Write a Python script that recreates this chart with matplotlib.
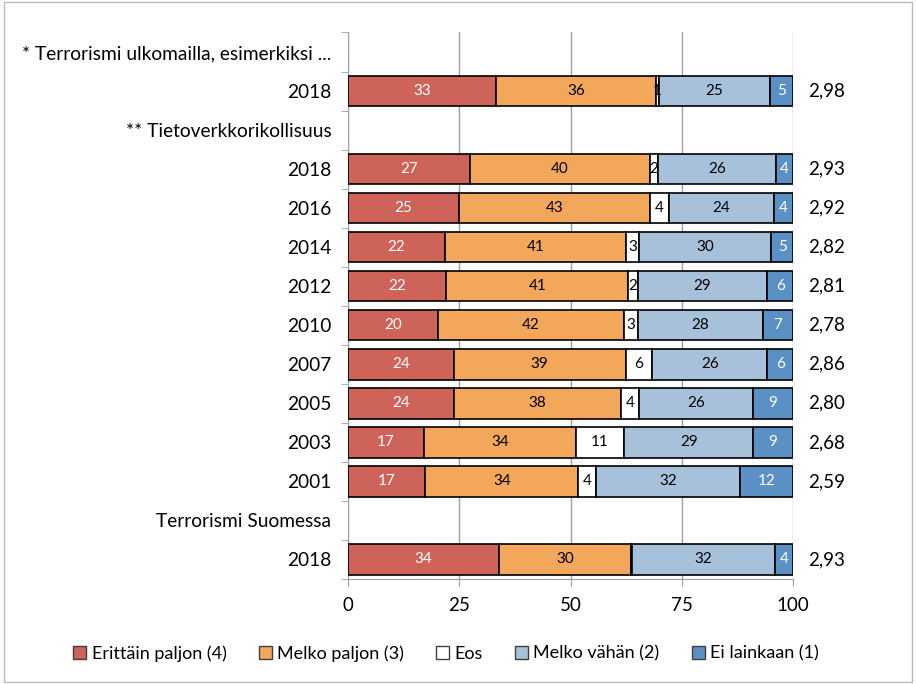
import numpy as np
import matplotlib.pyplot as plt
from matplotlib.patches import Patch, Rectangle

rows = ["* Terrorismi ulkomailla, esimerkiksi ...", "2018",
        "** Tietoverkkorikollisuus", "2018", "2016", "2014", "2012",
        "2010", "2007", "2005", "2003", "2001",
        "Terrorismi Suomessa", "2018"]

# prosenttiosuudet (otsikkoriveillä ei palkkia)
erittain_paljon = [np.nan, 33.3, np.nan, 27.4, 24.9, 21.8, 22.1, 20.1, 23.7, 23.7, 17.1, 17.4, np.nan, 33.9]
melko_paljon = [np.nan, 35.8, np.nan, 40.4, 43.0, 40.6, 40.9, 42.0, 38.7, 37.6, 34.1, 34.3, np.nan, 29.8]
eos = [np.nan, 0.7, np.nan, 1.9, 4.2, 3.0, 2.1, 3.0, 6.0, 4.1, 10.9, 4.0, np.nan, 0.2]
melko_vahan = [np.nan, 25.1, np.nan, 26.4, 23.7, 29.7, 29.1, 28.1, 25.8, 25.7, 29.0, 32.4, np.nan, 32.0]
ei_lainkaan = [np.nan, 5.1, np.nan, 3.9, 4.2, 4.9, 5.8, 6.8, 5.8, 8.9, 8.9, 11.9, np.nan, 4.1]
keskiarvo = [None, "2,98", None, "2,93", "2,92", "2,82", "2,81", "2,78",
             "2,86", "2,80", "2,68", "2,59", None, "2,93"]

series = [
    ("Erittäin paljon (4)", erittain_paljon, "#CD6359", "white"),
    ("Melko paljon (3)", melko_paljon, "#F3A75B", "black"),
    ("Eos", eos, "white", "black"),
    ("Melko vähän (2)", melko_vahan, "#A8C1DA", "black"),
    ("Ei lainkaan (1)", ei_lainkaan, "#5B90C5", "white"),
]

plt.rcParams['font.family'] = ['Lato', 'DejaVu Sans']

fig = plt.figure(figsize=(9.16, 6.84), dpi=100)
ax = fig.add_axes([0.38, 0.1535, 0.4857, 0.7990])

y = np.arange(len(rows))
left = np.zeros(len(rows))
for name, vals, color, tcolor in series:
    vals = np.array(vals, dtype=float)
    ax.barh(y, vals, left=left, height=0.78, color=color,
            edgecolor="black", linewidth=1.2, label=name, zorder=3)
    for yi, v, l in zip(y, vals, left):
        if np.isnan(v) or v < 0.5:
            continue
        ax.text(l + v / 2, yi, f"{v:.0f}", ha="center", va="center",
                color=tcolor, fontsize=11, zorder=4)
    left = left + np.nan_to_num(vals)

for yi, m in zip(y, keskiarvo):
    if m:
        ax.text(103.3, yi, m, ha="left", va="center", fontsize=13.5, clip_on=False)

ax.set_xlim(0, 100)
ax.set_ylim(len(rows) - 0.5, -0.5)
ax.set_xticks([0, 25, 50, 75, 100])
ax.set_yticks(y)
ax.set_yticklabels(rows, fontsize=13.8)
ax.set_yticks(np.arange(len(rows) + 1) - 0.5, minor=True)
ax.tick_params(axis="y", which="major", length=0, pad=12)
ax.tick_params(axis="y", which="minor", length=5, color="#A0A0A0")
ax.tick_params(axis="x", length=5, color="#A0A0A0", labelsize=13.5, pad=8)
ax.xaxis.grid(True, color="#A0A0A0", linewidth=1, zorder=0)
ax.set_axisbelow(True)
for side in ("top", "right"):
    ax.spines[side].set_visible(False)
for side in ("left", "bottom"):
    ax.spines[side].set_color("#A0A0A0")

handles = [Patch(facecolor=c, edgecolor="#404040", label=n) for n, _, c, _ in series]
fig.legend(handles=handles, loc="center", bbox_to_anchor=(0.487, 0.045), ncol=5,
           frameon=False, fontsize=13, handlelength=0.7, handleheight=0.7,
           handletextpad=0.3, columnspacing=1.8)

fig.patches.append(Rectangle((0.004, 0.003), 0.992, 0.994, transform=fig.transFigure,
                             fill=False, edgecolor="#BBBBBB", linewidth=1))

fig.savefig("out.png", dpi=100)
